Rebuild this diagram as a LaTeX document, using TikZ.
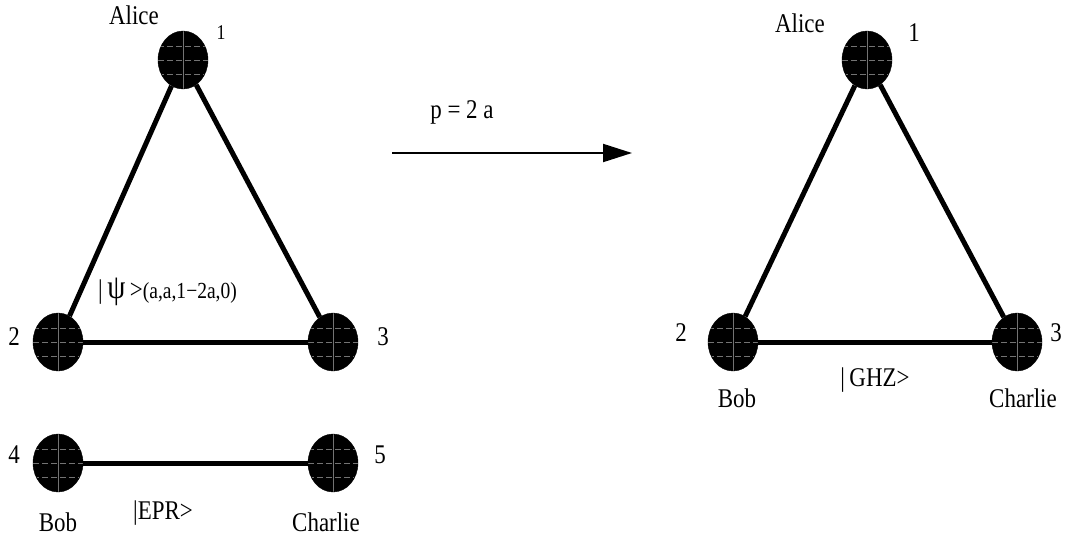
\documentclass[tikz,border=0pt]{standalone}
\usepackage{fontspec}
\setmainfont{Liberation Serif}[FakeStretch=0.85]
\usetikzlibrary{arrows.meta, shapes.geometric}

\tikzset{
  qubit/.style={ellipse, fill=black, draw=black, inner sep=0pt,
    minimum width=50pt, minimum height=58pt,
    path picture={
      \draw[black!55!white, line width=0.5pt] (path picture bounding box.north) -- (path picture bounding box.south);
      \foreach \s in {14pt,0pt,-14pt}
        \draw[black!55!white, line width=0.5pt, dash pattern=on 6pt off 3pt] ([yshift=\s]path picture bounding box.west) -- ([yshift=\s]path picture bounding box.east);
    }},
  bond/.style={line width=5pt},
  lbl/.style={font=\fontsize{27}{30}\selectfont, inner sep=0pt},
  sml/.style={font=\fontsize{21}{24}\selectfont, inner sep=0pt}
}

\begin{document}
\begin{tikzpicture}[x=1pt, y=-1pt]
  \useasboundingbox (0,0) rectangle (1068,538);
  % before
  \node[qubit] (a1) at (183,60) {};
  \node[qubit] (a2) at (58,342) {};
  \node[qubit] (a3) at (333,342) {};
  \node[qubit] (e4) at (58,463) {};
  \node[qubit] (e5) at (333,463) {};
  \draw[bond] (a1) -- (a2);
  \draw[bond] (a1) -- (a3);
  \draw[bond] (a2) -- (a3);
  \draw[bond] (e4) -- (e5);
  \node[lbl] (aliceL) at (134,15) {Alice};
  \node[sml] (n1L) at (221,33) {1};
  \node[lbl, anchor=west] (psi) at (98,292) {|\,{\fontsize{34}{36}\selectfont ψ}\,>\fontsize{23}{26}\selectfont(a,a,1−2a,0)};
  \node[lbl] (n2L) at (14,337) {2};
  \node[lbl] (n3L) at (383,337) {3};
  \node[lbl] (n4) at (14,455) {4};
  \node[lbl] (n5) at (380,455) {5};
  \node[lbl] (bobL) at (58,522) {Bob};
  \node[lbl] (epr) at (163,513) {|EPR>};
  \node[lbl] (charlieL) at (326,522) {Charlie};
  % arrow
  \coordinate (s) at (392,153);
  \coordinate (t) at (632,153);
  \draw[line width=2pt, -{Triangle[length=29pt, width=18pt]}] (s) -- (t);
  \node[lbl] (prob) at (462,112) {p = 2 a};
  % after
  \node[qubit] (b1) at (867,60) {};
  \node[qubit] (b2) at (733,342) {};
  \node[qubit] (b3) at (1017,342) {};
  \draw[bond] (b1) -- (b2);
  \draw[bond] (b1) -- (b3);
  \draw[bond] (b2) -- (b3);
  \node[lbl] (aliceR) at (800,23) {Alice};
  \node[lbl] (n1R) at (914,33) {1};
  \node[lbl] (n2R) at (681,333) {2};
  \node[lbl] (n3R) at (1056,333) {3};
  \node[lbl] (ghz) at (875,380) {|\,GHZ>};
  \node[lbl] (bobR) at (737,398) {Bob};
  \node[lbl] (charlieR) at (1023,398) {Charlie};
\end{tikzpicture}
\end{document}
